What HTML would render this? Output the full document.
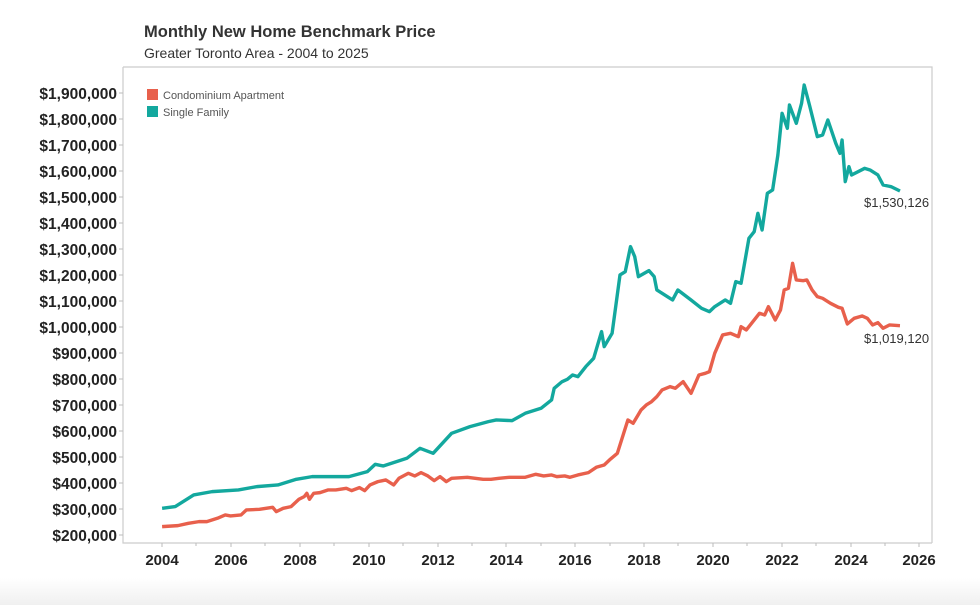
<!DOCTYPE html>
<html><head><meta charset="utf-8"><style>
body{margin:0;width:980px;height:605px;background:#fff;overflow:hidden;font-family:"Liberation Sans",sans-serif;position:relative}
.bot{position:absolute;left:0;top:578px;width:980px;height:27px;background:linear-gradient(#fff,#f0f0f0)}
</style></head><body>
<div class="bot"></div>
<svg width="980" height="605" style="position:absolute;left:0;top:0" font-family="Liberation Sans, sans-serif">
<text x="144" y="37" font-size="16.5" font-weight="bold" fill="#333">Monthly New Home Benchmark Price</text>
<text x="144" y="58" font-size="14" fill="#333">Greater Toronto Area - 2004 to 2025</text>
<path d="M123,67H932V543M123,67V543H932" fill="none" stroke="#ccc" stroke-width="1.2"/>
<g font-size="15.5" font-weight="bold" fill="#222" text-anchor="end">
<text x="117" y="99">$1,900,000</text><text x="117" y="125">$1,800,000</text><text x="117" y="151">$1,700,000</text><text x="117" y="177">$1,600,000</text><text x="117" y="203">$1,500,000</text><text x="117" y="229">$1,400,000</text><text x="117" y="255">$1,300,000</text><text x="117" y="281">$1,200,000</text><text x="117" y="307">$1,100,000</text><text x="117" y="333">$1,000,000</text><text x="117" y="359">$900,000</text><text x="117" y="385">$800,000</text><text x="117" y="411">$700,000</text><text x="117" y="437">$600,000</text><text x="117" y="463">$500,000</text><text x="117" y="489">$400,000</text><text x="117" y="515">$300,000</text><text x="117" y="541">$200,000</text>
</g>
<g stroke="#bbb" stroke-width="1">
<path d="M119,93h4M119,119h4M119,145h4M119,171h4M119,197h4M119,223h4M119,249h4M119,275h4M119,301h4M119,327h4M119,353h4M119,379h4M119,405h4M119,431h4M119,457h4M119,483h4M119,509h4M119,535h4"/>
<path d="M162,543v4M196,543v3M231,543v4M265,543v3M300,543v4M334,543v3M369,543v4M403,543v3M438,543v4M472,543v3M506,543v4M541,543v3M575,543v4M610,543v3M644,543v4M678,543v3M713,543v4M747,543v3M782,543v4M816,543v3M851,543v4M885,543v3M919,543v4"/>
</g>
<g font-size="15" font-weight="bold" fill="#222" text-anchor="middle">
<text x="162" y="565">2004</text><text x="231" y="565">2006</text><text x="300" y="565">2008</text><text x="369" y="565">2010</text><text x="438" y="565">2012</text><text x="506" y="565">2014</text><text x="575" y="565">2016</text><text x="644" y="565">2018</text><text x="713" y="565">2020</text><text x="782" y="565">2022</text><text x="851" y="565">2024</text><text x="919" y="565">2026</text>
</g>
<rect x="147" y="89" width="11" height="11" fill="#e8604c"/>
<rect x="147" y="106" width="11" height="11" fill="#13a89e"/>
<text x="163" y="99" font-size="11" fill="#555">Condominium Apartment</text>
<text x="163" y="116" font-size="11" fill="#555">Single Family</text>
<g transform="translate(120,60) scale(0.5263,0.3333)" fill="none" stroke-width="3.4" stroke-linejoin="round">
<polyline vector-effect="non-scaling-stroke" stroke="#13a89e" points="80,1345 105,1340 140,1305 175,1295 225,1290 260,1280 300,1275 335,1258 365,1250 435,1250 470,1235 485,1213 500,1218 545,1195 570,1165 595,1180 630,1120 665,1100 700,1085 715,1080 745,1082 770,1060 800,1045 820,1020 825,985 840,965 850,958 860,945 870,950 885,920 900,895 915,815 920,860 935,820 950,645 960,635 970,560 978,590 985,650 1005,632 1015,650 1020,690 1045,715 1050,720 1060,690 1085,720 1105,745 1120,755 1130,740 1150,720 1160,730 1170,665 1180,670 1195,535 1205,515 1212,460 1220,510 1230,400 1240,390 1250,285 1258,160 1268,205 1272,135 1285,190 1295,130 1300,75 1310,135 1325,230 1335,225 1345,180 1360,250 1368,280 1372,240 1378,365 1385,320 1390,345 1415,325 1425,330 1440,345 1450,375 1465,380 1482,393"/>
<polyline vector-effect="non-scaling-stroke" stroke="#e8604c" points="80,1400 110,1397 130,1390 150,1385 165,1385 185,1375 200,1365 210,1368 230,1365 240,1350 265,1348 290,1342 297,1355 310,1345 325,1340 340,1318 350,1310 355,1300 360,1318 368,1300 380,1298 395,1290 410,1290 430,1285 440,1292 455,1283 465,1292 475,1275 490,1265 505,1260 520,1275 530,1255 548,1240 560,1248 572,1238 585,1248 597,1262 608,1250 620,1265 630,1255 660,1252 690,1258 705,1258 720,1255 740,1252 770,1252 790,1243 805,1248 820,1245 830,1250 845,1248 855,1252 870,1245 890,1238 905,1222 920,1215 930,1200 945,1180 955,1130 965,1080 975,1090 990,1050 1000,1035 1010,1025 1020,1010 1030,990 1045,980 1055,985 1070,965 1085,1000 1100,945 1112,940 1120,935 1130,880 1145,825 1160,820 1175,830 1180,800 1190,810 1200,790 1215,760 1225,765 1232,740 1245,780 1255,750 1262,690 1270,685 1278,610 1285,660 1298,662 1305,660 1315,690 1325,710 1335,715 1350,730 1365,742 1372,745 1382,792 1395,775 1410,768 1420,775 1430,795 1440,788 1450,805 1462,795 1482,797"/>
</g>
<text x="864" y="207" font-size="13" fill="#333">$1,530,126</text>
<text x="864" y="343" font-size="13" fill="#333">$1,019,120</text>
</svg>
</body></html>
